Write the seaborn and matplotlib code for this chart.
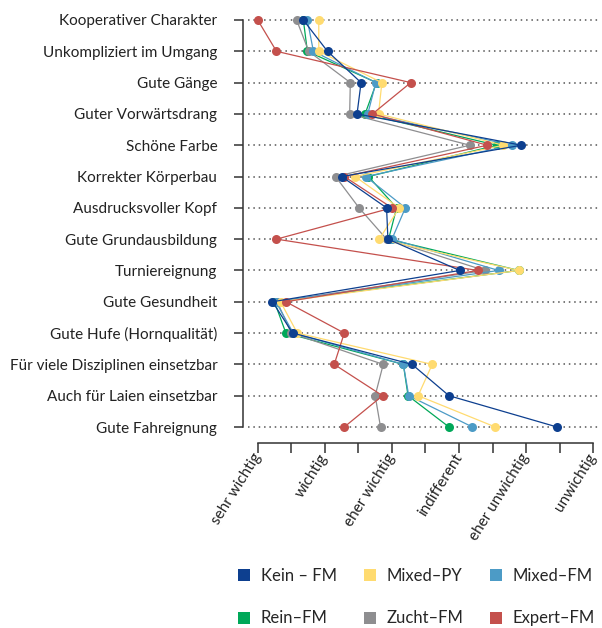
import matplotlib
matplotlib.use("Agg")
import matplotlib.pyplot as plt
from matplotlib.lines import Line2D
import seaborn as sns
import pandas as pd

criteria = ["Kooperativer Charakter", "Unkompliziert im Umgang", "Gute Gänge",
            "Guter Vorwärtsdrang", "Schöne Farbe", "Korrekter Körperbau",
            "Ausdrucksvoller Kopf", "Gute Grundausbildung", "Turniereignung",
            "Gute Gesundheit", "Gute Hufe (Hornqualität)",
            "Für viele Disziplinen einsetzbar", "Auch für Laien einsetzbar",
            "Gute Fahreignung"]

x_ticklabels = ["sehr wichtig", "wichtig", "eher wichtig", "indifferent",
                "eher unwichtig", "unwichtig"]

kein_fm   = [1.68, 2.04, 2.54, 2.48, 4.93, 2.25, 2.92, 2.94, 4.01, 1.22, 1.52, 3.30, 3.85, 5.46]
mixed_py  = [1.91, 1.91, 2.85, 2.80, 4.66, 2.45, 3.11, 2.81, 4.89, 1.34, 1.59, 3.60, 3.39, 4.54]
mixed_fm  = [1.74, 1.83, 2.76, 2.64, 4.79, 2.61, 3.20, 3.00, 4.59, 1.27, 1.53, 3.17, 3.25, 4.20]
rein_fm   = [1.68, 1.74, 2.77, 2.60, 4.56, 2.65, 3.07, 2.95, 4.89, 1.25, 1.42, 3.17, 3.24, 3.85]
zucht_fm  = [1.58, 1.76, 2.38, 2.37, 4.16, 2.16, 2.51, 2.92, 4.38, 1.29, 1.50, 2.87, 2.75, 2.83]
expert_fm = [1.00, 1.28, 3.28, 2.71, 4.42, 2.29, 3.00, 1.28, 4.28, 1.42, 2.29, 2.14, 2.86, 2.29]

series = {
    "Kein – FM": kein_fm,
    "Mixed–PY": mixed_py,
    "Mixed–FM": mixed_fm,
    "Rein–FM": rein_fm,
    "Zucht–FM": zucht_fm,
    "Expert–FM": expert_fm,
}
colors = {
    "Kein – FM": "#0d3f8f",
    "Mixed–PY": "#ffdb70",
    "Mixed–FM": "#4c9bc6",
    "Rein–FM": "#00a859",
    "Zucht–FM": "#8e8e90",
    "Expert–FM": "#c4504c",
}
draw_order = ["Rein–FM", "Zucht–FM", "Mixed–FM", "Mixed–PY", "Expert–FM", "Kein – FM"]
legend_order = ["Kein – FM", "Rein–FM", "Mixed–PY", "Zucht–FM", "Mixed–FM", "Expert–FM"]

sns.set_theme(style="white")
plt.rcParams['font.family'] = ['Lato', 'DejaVu Sans']

fig = plt.figure(figsize=(6.02, 6.28), dpi=100)
ax = fig.add_axes([257.7 / 602, 1 - 427 / 628, (593.3 - 257.7) / 602, (427 - 20) / 628])

pos = list(range(len(criteria)))
for z, name in enumerate(draw_order):
    df = pd.DataFrame({"value": series[name], "pos": pos})
    sns.lineplot(data=df, x="value", y="pos", orient="y", ax=ax, color=colors[name],
                 marker="o", markersize=6.5, markeredgewidth=0, linewidth=0.9,
                 zorder=3 + z, clip_on=False, sort=False, estimator=None)

ax.set_xlim(1, 6)
ax.set_ylim(len(criteria) - 1, 0)
ax.set_xlabel("")
ax.set_ylabel("")

for s in ["top", "right"]:
    ax.spines[s].set_visible(False)
ax.spines["left"].set_position(("outward", 10.6))
ax.spines["bottom"].set_position(("outward", 11.5))
ax.spines["left"].set_bounds(0, len(criteria) - 1)
ax.spines["bottom"].set_bounds(1, 6)
for s in ["left", "bottom"]:
    ax.spines[s].set_color("#333333")
    ax.spines[s].set_linewidth(1.1)

ax.tick_params(axis="y", which="major", left=True, length=6.5, width=1.1,
               color="#333333", pad=12)
ax.tick_params(axis="x", which="both", bottom=True, length=7, width=1.1,
               color="#333333", pad=1.5)
ax.grid(False)

ax.set_yticks(pos)
ax.set_yticklabels(criteria, fontsize=11, color="#222222")
ax.set_xticks([1, 2, 3, 4, 5, 6])
ax.set_xticks([1.5, 2.5, 3.5, 4.5, 5.5], minor=True)
ax.set_xticklabels(x_ticklabels, fontsize=11, color="#222222")
for lab in ax.get_xticklabels():
    lab.set_rotation(58)
    lab.set_ha("right")
    lab.set_va("center")
    lab.set_rotation_mode("anchor")

ax.hlines(pos, -0.03, 1.02, transform=ax.get_yaxis_transform(), colors="#555555",
          linestyles=(0, (1, 2.5)), linewidth=1.1, zorder=1, clip_on=False)

handles = [Line2D([], [], linestyle="none", marker="s", markersize=9,
                  markerfacecolor=colors[n], markeredgewidth=0) for n in legend_order]
fig.legend(handles, legend_order, ncol=3, loc="lower left",
           bbox_to_anchor=(231 / 602, -0.008), frameon=False, fontsize=12,
           handlelength=0.8, handletextpad=0.6, columnspacing=1.55,
           labelspacing=1.6, borderaxespad=0.0)

fig.savefig("out.png", dpi=100)
